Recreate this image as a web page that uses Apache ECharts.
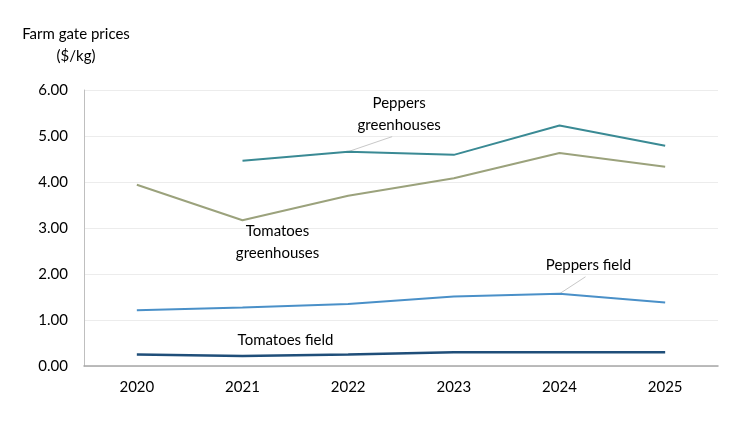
<!DOCTYPE html>
<html>
<head>
<meta charset="utf-8">
<script src="https://cdn.jsdelivr.net/npm/echarts@6/dist/echarts.min.js"></script>
<style>html,body{margin:0;padding:0;background:#fff}#c{width:750px;height:422px}</style>
</head>
<body>
<div id="c"></div>
<script>
const years = ['2020', '2021', '2022', '2023', '2024', '2025'];
const peppersGreenhouses = [null, 4.46, 4.66, 4.59, 5.23, 4.79];
const tomatoesGreenhouses = [3.94, 3.17, 3.70, 4.08, 4.63, 4.33];
const peppersField = [1.21, 1.27, 1.35, 1.51, 1.57, 1.38];
const tomatoesField = [0.25, 0.22, 0.25, 0.30, 0.30, 0.30];
const yTicks = [0, 1, 2, 3, 4, 5, 6];

const FONT = 'Lato, "Open Sans", sans-serif';
const chart = echarts.init(document.getElementById('c'), null, {renderer: 'canvas'});

function line(name, data, color, width) {
  return {
    name, type: 'line', data, symbol: 'none', smooth: false,
    lineStyle: {color, width}, itemStyle: {color}, silent: true
  };
}

chart.setOption({
  animation: false,
  backgroundColor: '#ffffff',
  grid: {left: 84, right: 32, top: 90, bottom: 56, containLabel: false},
  xAxis: {
    type: 'category', data: years, boundaryGap: true,
    axisLine: {show: true, lineStyle: {color: '#a6a6a6', width: 1.5}},
    axisTick: {show: false},
    axisLabel: {color: '#000', fontFamily: FONT, fontSize: 15, margin: 14},
    splitLine: {show: false}
  },
  yAxis: {
    type: 'value', min: yTicks[0], max: yTicks[yTicks.length - 1], interval: 1,
    axisLine: {show: true, lineStyle: {color: '#bfbfbf', width: 1}},
    axisTick: {show: false},
    axisLabel: {color: '#000', fontFamily: FONT, fontSize: 15, margin: 16,
      formatter: v => v.toFixed(2)},
    splitLine: {show: true, lineStyle: {color: '#ececec', width: 1}}
  },
  series: [
    line('Peppers greenhouses', peppersGreenhouses, '#3a8a94', 2),
    line('Tomatoes greenhouses', tomatoesGreenhouses, '#9ba27c', 2),
    line('Peppers field', peppersField, '#4a90c8', 2),
    line('Tomatoes field', tomatoesField, '#1f4e79', 2.5)
  ]
});

function px(i, v) { return chart.convertToPixel({gridIndex: 0}, [i, v]); }
const pg = px(2, peppersGreenhouses[2]);
const pf = px(4, peppersField[4]);
const tg = px(1, tomatoesGreenhouses[1]);
const tf = px(1, tomatoesField[1]);

const txt = (x, y, text) => ({
  type: 'text', x, y,
  style: {text, fill: '#000', font: '15px ' + FONT, align: 'center', verticalAlign: 'middle', lineHeight: 22}
});

chart.setOption({
  graphic: [
    txt(76, 34, 'Farm gate prices'),
    txt(76, 56, '($/kg)'),
    txt(pg[0] + 51, pg[1] - 37, 'Peppers\ngreenhouses'),
    {type: 'line', shape: {x1: pg[0], y1: pg[1], x2: pg[0] + 44, y2: pg[1] - 15}, style: {stroke: '#c8c8c8', lineWidth: 1}},
    txt(tg[0] + 35, tg[1] + 22, 'Tomatoes\ngreenhouses'),
    txt(pf[0] + 29, pf[1] - 29, 'Peppers field'),
    {type: 'line', shape: {x1: pf[0], y1: pf[1], x2: pf[0] + 26, y2: pf[1] - 17}, style: {stroke: '#c8c8c8', lineWidth: 1}},
    txt(tf[0] + 43, tf[1] - 16, 'Tomatoes field')
  ]
});
</script>
</body>
</html>
